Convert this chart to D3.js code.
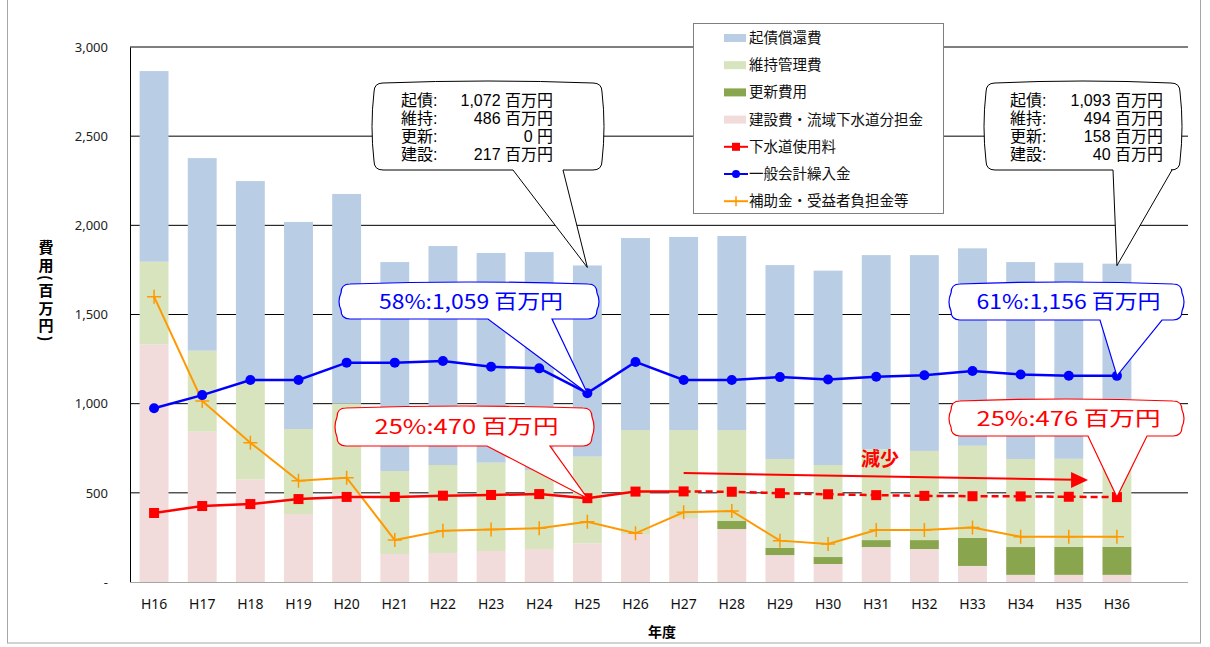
<!DOCTYPE html>
<html>
<head>
<meta charset="utf-8">
<script src="https://cdn.jsdelivr.net/npm/d3@7"></script>
<style>
  body { margin: 0; background: #fff; }
  svg { display: block; }
  text { font-family: "Noto Sans CJK JP", "Noto Sans", sans-serif; }
</style>
</head>
<body>
<svg id="chart" width="1210" height="647"></svg>
<script>
// data (百万円)
const years = ["H16","H17","H18","H19","H20","H21","H22","H23","H24","H25","H26",
  "H27","H28","H29","H30","H31","H32","H33","H34","H35","H36"];
const kensetsu = [1333, 843, 576, 381, 499, 157, 163, 174, 185, 217, 269, 359, 297, 151, 101, 196, 185, 90, 40, 40, 40];
const koshin   = [0, 0, 0, 0, 0, 0, 0, 0, 0, 0, 0, 0, 45, 40, 39, 39, 50, 157, 156, 157, 158];
const iji      = [463, 454, 547, 477, 503, 465, 493, 495, 443, 486, 583, 493, 510, 499, 516, 509, 500, 517, 494, 494, 494];
const kisai    = [1069, 1080, 1125, 1161, 1174, 1172, 1228, 1176, 1222, 1072, 1077, 1083, 1088, 1087, 1090, 1089, 1098, 1107, 1104, 1099, 1093];
const shiyoryo = [387, 426, 437, 465, 477, 477, 484, 488, 493, 470, 507, 508, 506, 498, 492, 487, 483, 481, 480, 478, 476];
const kurire   = [974, 1048, 1133, 1133, 1230, 1230, 1239, 1207, 1198, 1059, 1234, 1133, 1133, 1149, 1136, 1151, 1159, 1183, 1164, 1157, 1156];
const hojo     = [1600, 1015, 781, 568, 585, 235, 288, 295, 301, 338, 273, 391, 398, 232, 213, 292, 292, 305, 254, 254, 254];
const yTicks = [0, 500, 1000, 1500, 2000, 2500, 3000];

// callout shares as printed on the chart
const calloutYears = ["H25", "H36"];
const kurirePct   = [58, 61];
const shiyoryoPct = [25, 25];

const barKeys = ["kensetsu", "koshin", "iji", "kisai"];
const barColors = { kisai: "#B9CDE5", iji: "#D7E4BD", koshin: "#89A54E", kensetsu: "#F2DCDB" };

const svg = d3.select("#chart");

// outer frame
svg.append("rect").attr("x", 7.5).attr("y", -1).attr("width", 1193).attr("height", 644)
  .attr("fill", "none").attr("stroke", "#a6a6a6");

const x = d3.scaleBand().domain(years).range([130, 1141]).paddingInner(0.4).paddingOuter(0.2);
const xc = d => x(d) + x.bandwidth() / 2;
const y = d3.scaleLinear().domain([0, 3000]).range([582, 47]);

// gridlines
svg.append("g").selectAll("line").data(yTicks.filter(d => d > 0)).join("line")
  .attr("x1", 130).attr("x2", 1188)
  .attr("y1", d => y(d)).attr("y2", d => y(d))
  .attr("stroke", "#000").attr("stroke-width", 1);

// y axis
const yAxis = svg.append("g").attr("transform", "translate(130,0)")
  .call(d3.axisLeft(y).tickValues(yTicks).tickSize(0).tickPadding(22)
    .tickFormat(d => d === 0 ? "-" : d3.format(",")(d)));
yAxis.select(".domain").attr("stroke", "#000");
yAxis.selectAll("text").attr("font-size", 13).attr("fill", "#222")
  .style("font-family", "'Noto Sans', sans-serif");

// stacked bars
const table = years.map((yr, i) => ({ year: yr, kensetsu: kensetsu[i], koshin: koshin[i], iji: iji[i], kisai: kisai[i] }));
const stacked = d3.stack().keys(barKeys)(table);
svg.append("g").selectAll("g").data(stacked).join("g")
  .attr("fill", d => barColors[d.key])
  .selectAll("rect").data(d => d).join("rect")
  .attr("x", d => x(d.data.year))
  .attr("width", x.bandwidth())
  .attr("y", d => y(d[1]))
  .attr("height", d => y(d[0]) - y(d[1]));

// x axis
const xAxis = svg.append("g").attr("transform", "translate(0,582)")
  .call(d3.axisBottom(x).tickSize(0).tickPadding(17));
xAxis.select(".domain").attr("stroke", "#a6a6a6").attr("d", "M130,0.5H1188");
xAxis.selectAll("text").attr("font-size", 14).attr("fill", "#111")
  .style("font-family", "'Noto Sans', sans-serif");

svg.append("text").attr("x", 662).attr("y", 637).attr("text-anchor", "middle")
  .attr("font-size", 14).attr("font-weight", "bold").text("年度");

// vertical y title
svg.append("text").attr("x", 46).attr("y", 240)
  .attr("writing-mode", "vertical-rl").style("writing-mode", "vertical-rl")
  .attr("font-size", 15).attr("font-weight", "bold").attr("letter-spacing", 2.5)
  .text("費用(百万円)");

// lines
const lineGen = d3.line().x((d, i) => xc(years[i])).y(d => y(d));
const idx27 = years.indexOf("H27");

svg.append("path").datum(hojo).attr("d", lineGen)
  .attr("fill", "none").attr("stroke", "#FF9900").attr("stroke-width", 2);
svg.append("g").selectAll("path").data(hojo).join("path")
  .attr("d", (d, i) => `M${xc(years[i]) - 7},${y(d)}h14M${xc(years[i])},${y(d) - 7}v14`)
  .attr("stroke", "#FF9900").attr("stroke-width", 1.5);

const redLine = d3.line().x(d => xc(d.year)).y(d => y(d.v));
const redPts = years.map((yr, i) => ({ year: yr, v: shiyoryo[i] }));
svg.append("path").datum(redPts.slice(0, idx27 + 1)).attr("d", redLine)
  .attr("fill", "none").attr("stroke", "#FF0000").attr("stroke-width", 2.5);
svg.append("path").datum(redPts.slice(idx27)).attr("d", redLine)
  .attr("fill", "none").attr("stroke", "#FF0000").attr("stroke-width", 2.5)
  .attr("stroke-dasharray", "7,4");
svg.append("g").selectAll("rect").data(redPts).join("rect")
  .attr("x", d => xc(d.year) - 5).attr("y", d => y(d.v) - 5)
  .attr("width", 10).attr("height", 10).attr("fill", "#FF0000");

svg.append("path").datum(kurire).attr("d", lineGen)
  .attr("fill", "none").attr("stroke", "#0000FF").attr("stroke-width", 2.5);
svg.append("g").selectAll("circle").data(kurire).join("circle")
  .attr("cx", (d, i) => xc(years[i])).attr("cy", d => y(d)).attr("r", 5).attr("fill", "#0000FF");

// 減少 arrow
const step = x.step();
const ax0 = xc("H27"), ay0 = y(611), ax1 = xc("H35") + 0.4 * step, ay1 = y(572);
svg.append("line").attr("x1", ax0).attr("y1", ay0).attr("x2", ax1 - 14).attr("y2", ay1 - 0.2)
  .attr("stroke", "#FF0000").attr("stroke-width", 2);
svg.append("path")
  .attr("d", `M${ax1},${ay1}L${ax1 - 17},${ay1 - 8}L${ax1 - 17},${ay1 + 8}Z`)
  .attr("fill", "#FF0000");
svg.append("text").attr("x", 880).attr("y", 466).attr("text-anchor", "middle")
  .attr("font-size", 19).attr("font-weight", "bold").attr("fill", "#FF0000").text("減少");

// callouts
function bubble(x0, y0, x1, y1, bA, bB, tx, ty, color, sw) {
  const r = 9, b = 4;
  const p = `M${x0 + r},${y0}Q${(x0 + x1) / 2},${y0 - b} ${x1 - r},${y0}Q${x1},${y0} ${x1},${y0 + r}` +
    `Q${x1 + b},${(y0 + y1) / 2} ${x1},${y1 - r}Q${x1},${y1} ${x1 - r},${y1}` +
    `L${bB},${y1}L${tx},${ty}L${bA},${y1}` +
    `L${x0 + r},${y1}Q${x0},${y1} ${x0},${y1 - r}Q${x0 - b},${(y0 + y1) / 2} ${x0},${y0 + r}Q${x0},${y0} ${x0 + r},${y0}Z`;
  svg.append("path").attr("d", p).attr("fill", "#fff").attr("stroke", color).attr("stroke-width", sw || 1.2);
}

const total = i => kensetsu[i] + koshin[i] + iji[i] + kisai[i];

function breakdown(x0, y0, x1, y1, bA, bB, textL, textR, yr) {
  const i = years.indexOf(yr);
  bubble(x0, y0, x1, y1, bA, bB, xc(yr), y(total(i)) + 2, "#000", 1);
  const fmt = d3.format(",");
  const rows = [
    ["起債:", fmt(kisai[i]) + " 百万円"],
    ["維持:", fmt(iji[i]) + " 百万円"],
    ["更新:", koshin[i] === 0 ? "0 円" : fmt(koshin[i]) + " 百万円"],
    ["建設:", fmt(kensetsu[i]) + " 百万円"]
  ];
  const t = svg.append("text").attr("font-size", 16)
    .style("font-family", "'Liberation Sans', 'Noto Sans CJK JP', sans-serif");
  rows.forEach((r, k) => {
    t.append("tspan").attr("x", textL).attr("y", y0 + 23 + k * 18).text(r[0]);
    t.append("tspan").attr("x", textR).attr("y", y0 + 23 + k * 18)
      .attr("text-anchor", "end").text(r[1]);
  });
}
breakdown(374, 83, 602, 170, 513, 563, 401, 553, "H25");
breakdown(986, 83, 1180, 170, 1113, 1172, 1010, 1163, "H36");

function pctCallout(x0, y0, x1, y1, bA, bB, yr, vals, pcts, color) {
  const i = years.indexOf(yr);
  const v = vals[i];
  const pct = pcts[calloutYears.indexOf(yr)];
  bubble(x0, y0, x1, y1, bA, bB, xc(yr), y(v), color, 1.2);
  svg.append("text").attr("x", (x0 + x1) / 2 + 2).attr("y", (y0 + y1) / 2 + 7)
    .attr("text-anchor", "middle").attr("font-size", 20).attr("fill", color)
    .attr("textLength", 184).attr("lengthAdjust", "spacingAndGlyphs")
    .text(`${pct}%:${d3.format(",")(v)} 百万円`);
}
pctCallout(341, 284, 597, 319, 488, 552, "H25", kurire, kurirePct, "#0000FF");
pctCallout(951, 284, 1182, 320, 1100, 1162, "H36", kurire, kurirePct, "#0000FF");
pctCallout(337, 408, 592, 446, 487, 550, "H25", shiyoryo, shiyoryoPct, "#FF0000");
pctCallout(951, 401, 1182, 436, 1088, 1147, "H36", shiyoryo, shiyoryoPct, "#FF0000");

// legend
const legend = svg.append("g");
legend.append("rect").attr("x", 693.5).attr("y", 23.5).attr("width", 250).attr("height", 190)
  .attr("fill", "#fff").attr("stroke", "#7f7f7f");
const legItems = [
  { label: "起債償還費", type: "bar", color: barColors.kisai },
  { label: "維持管理費", type: "bar", color: barColors.iji },
  { label: "更新費用", type: "bar", color: barColors.koshin },
  { label: "建設費・流域下水道分担金", type: "bar", color: barColors.kensetsu },
  { label: "下水道使用料", type: "square", color: "#FF0000" },
  { label: "一般会計繰入金", type: "circle", color: "#0000FF" },
  { label: "補助金・受益者負担金等", type: "cross", color: "#FF9900" }
];
legItems.forEach((d, k) => {
  const cy = 38 + k * 27.2;
  const g = legend.append("g");
  if (d.type === "bar") {
    g.append("rect").attr("x", 724).attr("y", cy - 4).attr("width", 22).attr("height", 8).attr("fill", d.color);
  } else {
    g.append("line").attr("x1", 724).attr("x2", 748).attr("y1", cy).attr("y2", cy)
      .attr("stroke", d.color).attr("stroke-width", 2);
    if (d.type === "square") g.append("rect").attr("x", 732).attr("y", cy - 4).attr("width", 8).attr("height", 8).attr("fill", d.color);
    if (d.type === "circle") g.append("circle").attr("cx", 736).attr("cy", cy).attr("r", 4).attr("fill", d.color);
    if (d.type === "cross") g.append("line").attr("x1", 736).attr("x2", 736).attr("y1", cy - 5).attr("y2", cy + 5)
      .attr("stroke", d.color).attr("stroke-width", 1.5);
  }
  g.append("text").attr("x", 749).attr("y", cy + 5).attr("font-size", 14.5).attr("fill", "#111").text(d.label);
});
</script>
</body>
</html>
